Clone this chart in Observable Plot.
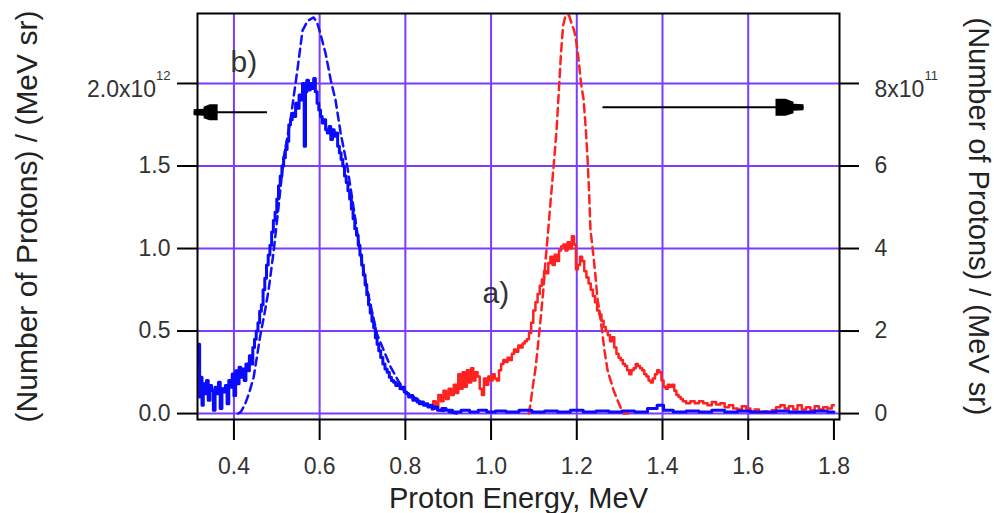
<!DOCTYPE html>
<html><head><meta charset="utf-8">
<script src="https://cdn.jsdelivr.net/npm/d3@7"></script>
<script src="https://cdn.jsdelivr.net/npm/@observablehq/plot@0.6"></script>
<style>body{margin:0;background:#fff} #chart{width:994px;height:513px}</style>
</head><body><div id="chart"></div>
<script>
// x tick values (MeV)
const xTicks = [0.4, 0.6, 0.8, 1.0, 1.2, 1.4, 1.6, 1.8];
const xGridTicks = [0.4, 0.6, 0.8, 1.0, 1.2, 1.4, 1.6];
// left axis ticks (units of 1e12)
const leftTicks = [0, 0.5, 1.0, 1.5, 2.0];
// right axis tick labels (units of 1e11)
const rightTickLabels = ["0", "2", "4", "6", "8x10"];

// b) blue solid, [energy MeV, protons/(MeV sr) in 1e12] (left axis)
const blueSolid = [[0.317,0.30],[0.319,0.42],[0.321,0.10],[0.324,0.22],[0.327,0.05],[0.330,0.18],[0.334,0.12],[0.338,0.20],[0.342,0.08],[0.346,0.17],[0.350,0.14],[0.354,0.02],[0.358,0.16],[0.362,0.12],[0.366,0.19],[0.370,0.03],[0.374,0.15],[0.378,0.13],[0.382,0.17],[0.386,0.06],[0.390,0.20],[0.394,0.16],[0.398,0.24],[0.402,0.11],[0.406,0.26],[0.410,0.18],[0.414,0.28],[0.418,0.22],[0.422,0.27],[0.426,0.20],[0.430,0.30],[0.434,0.26],[0.438,0.35],[0.442,0.30],[0.446,0.40],[0.450,0.45],[0.454,0.50],[0.458,0.55],[0.462,0.62],[0.466,0.66],[0.470,0.75],[0.474,0.82],[0.478,0.90],[0.482,0.96],[0.486,1.02],[0.490,1.10],[0.494,1.17],[0.498,1.22],[0.502,1.30],[0.506,1.38],[0.510,1.44],[0.514,1.50],[0.518,1.55],[0.522,1.60],[0.526,1.65],[0.530,1.75],[0.534,1.78],[0.538,1.82],[0.542,1.80],[0.546,1.88],[0.550,1.85],[0.554,1.93],[0.558,1.90],[0.562,2.00],[0.566,1.62],[0.568,1.95],[0.572,2.02],[0.576,1.96],[0.580,2.00],[0.584,1.97],[0.588,2.03],[0.592,1.95],[0.596,1.88],[0.600,1.84],[0.604,1.80],[0.608,1.76],[0.612,1.78],[0.616,1.72],[0.620,1.70],[0.624,1.74],[0.628,1.66],[0.632,1.72],[0.636,1.68],[0.640,1.70],[0.644,1.62],[0.648,1.58],[0.652,1.54],[0.656,1.50],[0.660,1.44],[0.664,1.40],[0.668,1.35],[0.672,1.30],[0.676,1.24],[0.680,1.18],[0.684,1.12],[0.688,1.08],[0.692,1.02],[0.696,0.96],[0.700,0.90],[0.704,0.84],[0.708,0.78],[0.712,0.72],[0.716,0.66],[0.720,0.61],[0.724,0.56],[0.728,0.52],[0.732,0.46],[0.736,0.42],[0.740,0.38],[0.745,0.34],[0.750,0.30],[0.755,0.27],[0.760,0.25],[0.765,0.22],[0.770,0.20],[0.775,0.19],[0.780,0.17],[0.785,0.18],[0.790,0.15],[0.795,0.16],[0.800,0.13],[0.805,0.12],[0.810,0.10],[0.815,0.11],[0.820,0.08],[0.825,0.09],[0.830,0.07],[0.835,0.06],[0.840,0.07],[0.845,0.05],[0.850,0.06],[0.855,0.04],[0.860,0.05],[0.865,0.03],[0.870,0.04],[0.880,0.02],[0.890,0.03],[0.900,0.02],[0.92,0.01],[0.94,0.02],[0.96,0.01],[0.98,0.02],[1.00,0.01],[1.02,0.015],[1.05,0.01],[1.08,0.02],[1.11,0.01],[1.14,0.015],[1.17,0.01],[1.20,0.02],[1.23,0.01],[1.26,0.015],[1.29,0.01],[1.32,0.015],[1.35,0.01],[1.38,0.03],[1.395,0.05],[1.41,0.02],[1.44,0.01],[1.47,0.015],[1.50,0.01],[1.53,0.02],[1.56,0.01],[1.59,0.015],[1.62,0.01],[1.65,0.01],[1.68,0.015],[1.71,0.01],[1.74,0.01],[1.77,0.015],[1.80,0.01]];

// b) blue dashed (left axis, 1e12)
const blueDashed = [[0.410,0.0],[0.416,0.01],[0.425,0.05],[0.435,0.12],[0.446,0.22],[0.454,0.35],[0.462,0.48],[0.471,0.60],[0.481,0.75],[0.493,0.99],[0.504,1.25],[0.516,1.55],[0.532,1.78],[0.549,2.10],[0.560,2.32],[0.572,2.38],[0.586,2.40],[0.594,2.37],[0.602,2.30],[0.614,2.18],[0.626,2.02],[0.637,1.90],[0.649,1.70],[0.665,1.49],[0.679,1.25],[0.695,0.97],[0.711,0.75],[0.734,0.48],[0.766,0.28],[0.796,0.14],[0.843,0.06],[0.880,0.02],[0.920,0.0]];

// a) red solid, [energy MeV, protons/(MeV sr) in 1e11] (right axis)
const redSolid = [[0.862,0.1],[0.868,0.3],[0.874,0.15],[0.880,0.45],[0.886,0.3],[0.892,0.55],[0.898,0.35],[0.904,0.6],[0.910,0.45],[0.916,0.7],[0.921,0.5],[0.926,0.95],[0.931,0.6],[0.936,1.0],[0.941,0.65],[0.946,1.05],[0.951,0.75],[0.956,1.1],[0.961,0.8],[0.966,1.0],[0.971,0.9],[0.976,0.6],[0.981,0.45],[0.986,0.85],[0.991,0.7],[0.996,0.9],[1.001,0.8],[1.006,0.95],[1.011,0.85],[1.016,0.8],[1.021,1.05],[1.026,1.2],[1.031,1.3],[1.036,1.25],[1.041,1.35],[1.046,1.3],[1.051,1.45],[1.056,1.55],[1.061,1.5],[1.066,1.65],[1.071,1.6],[1.076,1.7],[1.081,1.75],[1.086,1.8],[1.091,1.95],[1.096,2.2],[1.101,2.5],[1.106,2.7],[1.111,2.9],[1.116,3.1],[1.121,3.25],[1.126,3.45],[1.131,3.4],[1.136,3.65],[1.141,3.8],[1.146,3.6],[1.151,3.85],[1.156,3.7],[1.161,3.95],[1.166,4.05],[1.171,4.1],[1.176,3.95],[1.181,4.15],[1.186,4.0],[1.191,4.3],[1.196,4.1],[1.200,3.5],[1.205,3.6],[1.210,3.8],[1.215,3.7],[1.220,3.45],[1.225,3.3],[1.230,3.15],[1.235,3.0],[1.240,2.85],[1.245,2.7],[1.250,2.5],[1.255,2.4],[1.260,2.25],[1.265,2.1],[1.270,2.0],[1.275,1.9],[1.280,1.75],[1.285,1.85],[1.290,1.6],[1.295,1.45],[1.300,1.35],[1.305,1.3],[1.310,1.2],[1.315,1.15],[1.320,1.05],[1.325,0.95],[1.330,1.05],[1.335,1.1],[1.340,1.2],[1.345,1.15],[1.350,1.1],[1.355,1.05],[1.360,0.95],[1.365,0.9],[1.370,0.8],[1.375,0.75],[1.380,0.85],[1.385,0.95],[1.390,1.05],[1.395,1.0],[1.400,0.8],[1.405,0.65],[1.410,0.6],[1.415,0.7],[1.420,0.65],[1.425,0.7],[1.430,0.55],[1.435,0.45],[1.440,0.4],[1.445,0.35],[1.450,0.3],[1.460,0.25],[1.470,0.3],[1.480,0.25],[1.490,0.3],[1.500,0.25],[1.510,0.2],[1.520,0.28],[1.530,0.22],[1.540,0.25],[1.550,0.15],[1.560,0.2],[1.570,0.12],[1.580,0.1],[1.590,0.18],[1.600,0.12],[1.610,0.05],[1.620,0.1],[1.630,0.02],[1.640,0.05],[1.650,0.02],[1.660,0.08],[1.670,0.15],[1.680,0.2],[1.690,0.12],[1.700,0.18],[1.710,0.1],[1.720,0.2],[1.730,0.1],[1.740,0.15],[1.750,0.08],[1.760,0.18],[1.770,0.1],[1.780,0.15],[1.790,0.12],[1.800,0.2]];

// a) red dashed (right axis, 1e11)
const redDashed = [[1.088,0.0],[1.092,0.24],[1.098,0.7],[1.104,1.12],[1.110,1.7],[1.116,2.33],[1.122,3.0],[1.127,3.7],[1.133,4.4],[1.139,5.16],[1.146,6.0],[1.153,6.9],[1.158,7.8],[1.163,8.7],[1.168,9.4],[1.174,9.65],[1.182,9.65],[1.188,9.45],[1.194,9.28],[1.199,9.0],[1.204,8.6],[1.210,8.0],[1.216,7.6],[1.221,6.9],[1.225,6.2],[1.229,5.3],[1.232,4.44],[1.237,4.0],[1.243,3.4],[1.248,2.8],[1.254,2.4],[1.259,2.0],[1.265,1.5],[1.272,1.04],[1.279,0.8],[1.286,0.56],[1.294,0.35],[1.302,0.15],[1.309,0.0],[1.320,0.0]];

// right axis (1e11) -> left axis (1e12): 8e11 sits at 2.0e12
const rightToLeft = 0.25;

// annotations
const panelLabels = [{label: "b)", e: 0.392, v: 2.067}, {label: "a)", e: 0.980, v: 0.667}];
const arrows = [{e1: 1.260, e2: 1.729, v: 1.856, dir: "right"}, {e1: 0.477, e2: 0.306, v: 1.826, dir: "left"}];

const gridColor = "#7a3cff";
const headRight = {draw(c) { c.moveTo(-28,-8.5); c.lineTo(-18,-8.5); c.lineTo(-10,-5.5); c.lineTo(-10,-3.5); c.lineTo(0,-3); c.lineTo(0,3); c.lineTo(-10,3.5); c.lineTo(-10,6); c.lineTo(-18,8.5); c.lineTo(-28,8.5); c.closePath(); }};
const headLeft = {draw(c) { c.moveTo(24,-8); c.lineTo(16,-8); c.lineTo(10,-5.5); c.lineTo(10,-3.5); c.lineTo(0,-3); c.lineTo(0,3); c.lineTo(10,3.5); c.lineTo(10,6); c.lineTo(16,8); c.lineTo(24,8); c.closePath(); }};

const font = "'Liberation Sans', Arial, sans-serif";
const yTitle = "(Number of Protons) / (MeV sr)";

const chart = Plot.plot({
  width: 994, height: 513,
  marginLeft: 197, marginRight: 155, marginTop: 13, marginBottom: 94,
  style: {fontFamily: font, background: "white", overflow: "visible"},
  x: {domain: [0.315, 1.813]},
  y: {domain: [-0.036, 2.424]},
  marks: [
    Plot.gridX(xGridTicks, {stroke: gridColor, strokeOpacity: 1, strokeWidth: 2}),
    Plot.gridY(leftTicks, {stroke: gridColor, strokeOpacity: 1, strokeWidth: 2}),
    Plot.line(blueDashed, {x: d => d[0], y: d => d[1], stroke: "#1010ff", strokeWidth: 2.5, strokeDasharray: "8,5"}),
    Plot.line(redDashed, {x: d => d[0], y: d => d[1] * rightToLeft, stroke: "#ff2020", strokeWidth: 2.5, strokeDasharray: "8,5"}),
    Plot.line(redSolid, {x: d => d[0], y: d => d[1] * rightToLeft, stroke: "#ff2020", strokeWidth: 2.5, curve: "step"}),
    Plot.line(blueSolid, {x: d => d[0], y: d => d[1], stroke: "#0a0aff", strokeWidth: 3, curve: "step"}),
    Plot.frame({stroke: "black", strokeWidth: 2}),
    Plot.axisX(xTicks, {anchor: "bottom", tickSize: 21, tickPadding: 17, fontSize: 23, tickFormat: d3.format(".1f"), stroke: "black", strokeWidth: 2, fill: "#333", label: null}),
    Plot.axisY(leftTicks, {anchor: "left", tickSize: 20, tickPadding: 7, fontSize: 23, tickFormat: d => d === 2 ? "2.0x10" : d3.format(".1f")(d), stroke: "black", strokeWidth: 2, fill: "#333", label: null}),
    Plot.axisY(leftTicks, {anchor: "right", tickSize: 19, tickPadding: 16, fontSize: 23, tickFormat: (d, i) => rightTickLabels[i], stroke: "black", strokeWidth: 2, fill: "#333", label: null}),
    Plot.text(["Proton Energy, MeV"], {text: d => d, frameAnchor: "bottom", dy: 88, lineAnchor: "bottom", fontSize: 29, fill: "#222"}),
    Plot.text([yTitle], {text: d => d, frameAnchor: "left", textAnchor: "middle", dx: -161, rotate: -90, lineAnchor: "bottom", fontSize: 30, fill: "#222"}),
    Plot.text([yTitle], {text: d => d, frameAnchor: "right", textAnchor: "middle", dx: 129, rotate: 90, lineAnchor: "bottom", fontSize: 29, fill: "#222"}),
    Plot.text(panelLabels, {x: "e", y: "v", text: "label", textAnchor: "start", lineAnchor: "bottom", fontSize: 30, fill: "#333"}),
    Plot.link(arrows, {x1: "e1", x2: "e2", y1: "v", y2: "v", stroke: "black", strokeWidth: 2}),
    Plot.dot(arrows.filter(a => a.dir === "right"), {x: "e2", y: "v", symbol: headRight, fill: "black", stroke: "none", r: 6}),
    Plot.dot(arrows.filter(a => a.dir === "left"), {x: "e2", y: "v", symbol: headLeft, fill: "black", stroke: "none", r: 6})
  ]
});

// superscript exponents on the tick labels
d3.select(chart).selectAll("text").each(function() {
  const t = this.textContent;
  if (t === "2.0x10" || t === "8x10") {
    d3.select(this).append("tspan").attr("dy", -17).attr("font-size", 13).text(t === "2.0x10" ? "12" : "11");
    this.setAttribute("transform", (this.getAttribute("transform") || "") + " translate(0,6)");
  }
});

document.getElementById("chart").append(chart);
</script></body></html>
